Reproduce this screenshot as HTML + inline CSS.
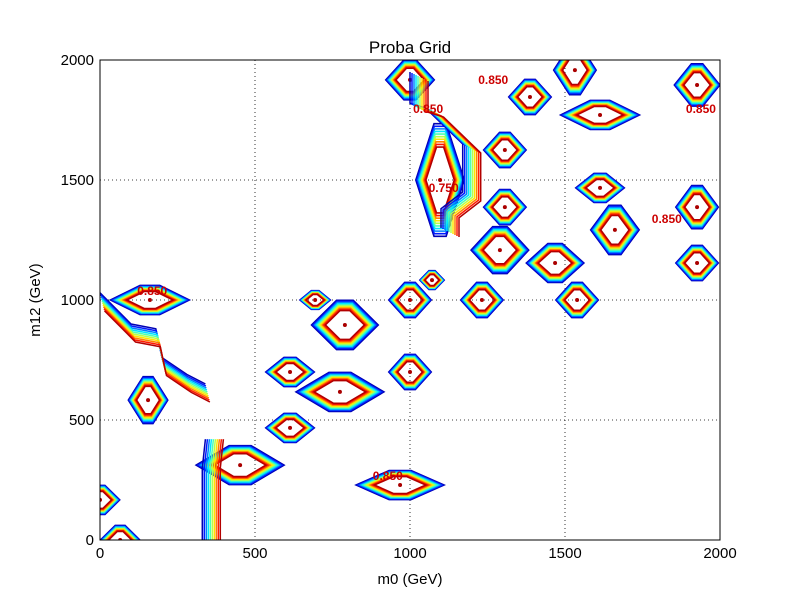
<!DOCTYPE html>
<html><head><meta charset="utf-8"><style>
body{margin:0;background:#fff;}
svg text{font-family:"Liberation Sans","DejaVu Sans",sans-serif;}
</style></head><body>
<svg id="chart" width="800" height="600" xmlns="http://www.w3.org/2000/svg">
<rect width="800" height="600" fill="#fff"/>
<text x="410" y="53" text-anchor="middle" font-size="17">Proba Grid</text>
<g id="grid"></g>
<g id="marks"></g>
<rect x="100" y="60" width="620" height="480" fill="none" stroke="#000" stroke-width="1"/>
<g id="axes"></g>
<text x="410" y="584" text-anchor="middle" font-size="15">m0 (GeV)</text>
<text x="40" y="300" text-anchor="middle" font-size="15" transform="rotate(-90 40 300)">m12 (GeV)</text>
</svg>
<script>
const xTicks=[0,500,1000,1500,2000];
const yTicks=[0,500,1000,1500,2000];
const levels=[0.05,0.15,0.25,0.35,0.45,0.55,0.65,0.75,0.85,0.95];
// blob centres (GeV) and half-extents (GeV)
const blobX=[155,613,613,452,774,1000,1000,1071,1232,1306,1306,1387,1468,1539,1613,1926,1926,1613,968,161,65,0,1532,1926,1000,790,694,1290,1661,1097];
const blobY=[583,700,467,312,617,700,1000,1083,1000,1625,1387,1846,1154,1000,1467,1387,1154,1771,229,1000,0,167,1958,1896,1917,896,1000,1208,1292,1500];
const blobW=[65,80,80,145,145,70,70,40,70,70,70,70,95,70,80,70,70,130,145,130,65,65,70,75,80,110,50,95,80,80];
const blobH=[100,62,62,83,83,75,75,40,75,75,75,75,83,75,62,92,75,62,62,62,62,62,105,90,85,105,40,100,105,240];
const blobV=[1,1,1,1,1,1,1,1,1,1,1,1,1,1,1,1,1,1,1,1,1,1,1,1,1,1,1,1,1,1];
// bands (GeV polylines)
const band1X=[0,100,180,200,280,340];
const band1Y=[1030,900,880,760,690,650];
const band2X=[330,330,330,340];
const band2Y=[0,200,300,420];
const band3X=[1000,1000,1050,1170,1170,1100,1100];
const band3Y=[1950,1820,1800,1650,1450,1380,1300];
const bands=[[band1X,band1Y,0.5,2],[band2X,band2Y,2,0],[band3X,band3Y,2,1]];
const labelText=["0.850","0.850","0.850","0.850","0.850","0.750","0.850"];
const labelX=[120,1010,1780,1890,1220,1060,880];
const labelY=[1020,1780,1320,1780,1900,1450,250];

const X=v=>100+v*620/2000, Y=v=>540-v*480/2000;
const NS="http://www.w3.org/2000/svg";
function jet(t){const c=x=>Math.round(255*Math.max(0,Math.min(1,x)));
 return `rgb(${c(1.5-Math.abs(4*t-3))},${c(1.5-Math.abs(4*t-2))},${c(1.5-Math.abs(4*t-1))})`;}
const grid=document.getElementById('grid'),axes=document.getElementById('axes'),marks=document.getElementById('marks');
xTicks.forEach(t=>{const x=X(t);
 const l=document.createElementNS(NS,'line');l.setAttribute('x1',x);l.setAttribute('x2',x);l.setAttribute('y1',60);l.setAttribute('y2',540);l.setAttribute('stroke','#000');l.setAttribute('stroke-dasharray','1,3');l.setAttribute('stroke-width','0.8');
 
 grid.appendChild(l);
 const tx=document.createElementNS(NS,'text');tx.setAttribute('x',x);tx.setAttribute('y',558);tx.setAttribute('text-anchor','middle');tx.setAttribute('font-size','15');tx.textContent=t;
 
 axes.appendChild(tx);});
yTicks.forEach(t=>{const y=Y(t);
 const l=document.createElementNS(NS,'line');l.setAttribute('x1',100);l.setAttribute('x2',720);l.setAttribute('y1',y);l.setAttribute('y2',y);l.setAttribute('stroke','#000');l.setAttribute('stroke-dasharray','1,3');l.setAttribute('stroke-width','0.8');
 
 grid.appendChild(l);
 const tx=document.createElementNS(NS,'text');tx.setAttribute('x',94);tx.setAttribute('y',y+5);tx.setAttribute('text-anchor','end');tx.setAttribute('font-size','15');tx.textContent=t;
 
 axes.appendChild(tx);});
const clip=document.createElementNS(NS,'clipPath');clip.setAttribute('id','pc');
const cr=document.createElementNS(NS,'rect');cr.setAttribute('x',100);cr.setAttribute('y',60);cr.setAttribute('width',620);cr.setAttribute('height',480);clip.appendChild(cr);
document.getElementById('chart').appendChild(clip);marks.setAttribute('clip-path','url(#pc)');
blobX.forEach((bx,i)=>{levels.forEach(lv=>{
 if(lv>blobV[i])return;
 const s=1-lv*0.45, cx=X(bx), cy=Y(blobY[i]), w=blobW[i]*620/2000*s, h=blobH[i]*480/2000*s;
 const p=document.createElementNS(NS,'polygon');
 p.setAttribute('points',`${cx-w},${cy} ${cx-w*0.25},${cy-h} ${cx+w*0.25},${cy-h} ${cx+w},${cy} ${cx+w*0.25},${cy+h} ${cx-w*0.25},${cy+h}`);
 p.setAttribute('fill','none');p.setAttribute('stroke',jet(lv));p.setAttribute('stroke-width','1.6');
 
 marks.appendChild(p);});
 const d=document.createElementNS(NS,'circle');d.setAttribute('cx',X(bx));d.setAttribute('cy',Y(blobY[i]));d.setAttribute('r',2);d.setAttribute('fill','#a00');
 
 marks.appendChild(d);});
bands.forEach(b=>{levels.forEach((lv,k)=>{
 const pl=document.createElementNS(NS,'polyline');
 pl.setAttribute('points',b[0].map((v,j)=>`${X(v)+k*b[2]},${Y(b[1][j])+k*b[3]}`).join(' '));
 pl.setAttribute('fill','none');pl.setAttribute('stroke',jet(lv));pl.setAttribute('stroke-width','1.5');
 
 marks.appendChild(pl);});});
labelText.forEach((t,i)=>{const tx=document.createElementNS(NS,'text');
 tx.setAttribute('x',X(labelX[i]));tx.setAttribute('y',Y(labelY[i]));tx.setAttribute('font-size','12');tx.setAttribute('fill','#c00');tx.setAttribute('font-weight','bold');tx.textContent=t;
 
 marks.appendChild(tx);});
</script>
</body></html>
